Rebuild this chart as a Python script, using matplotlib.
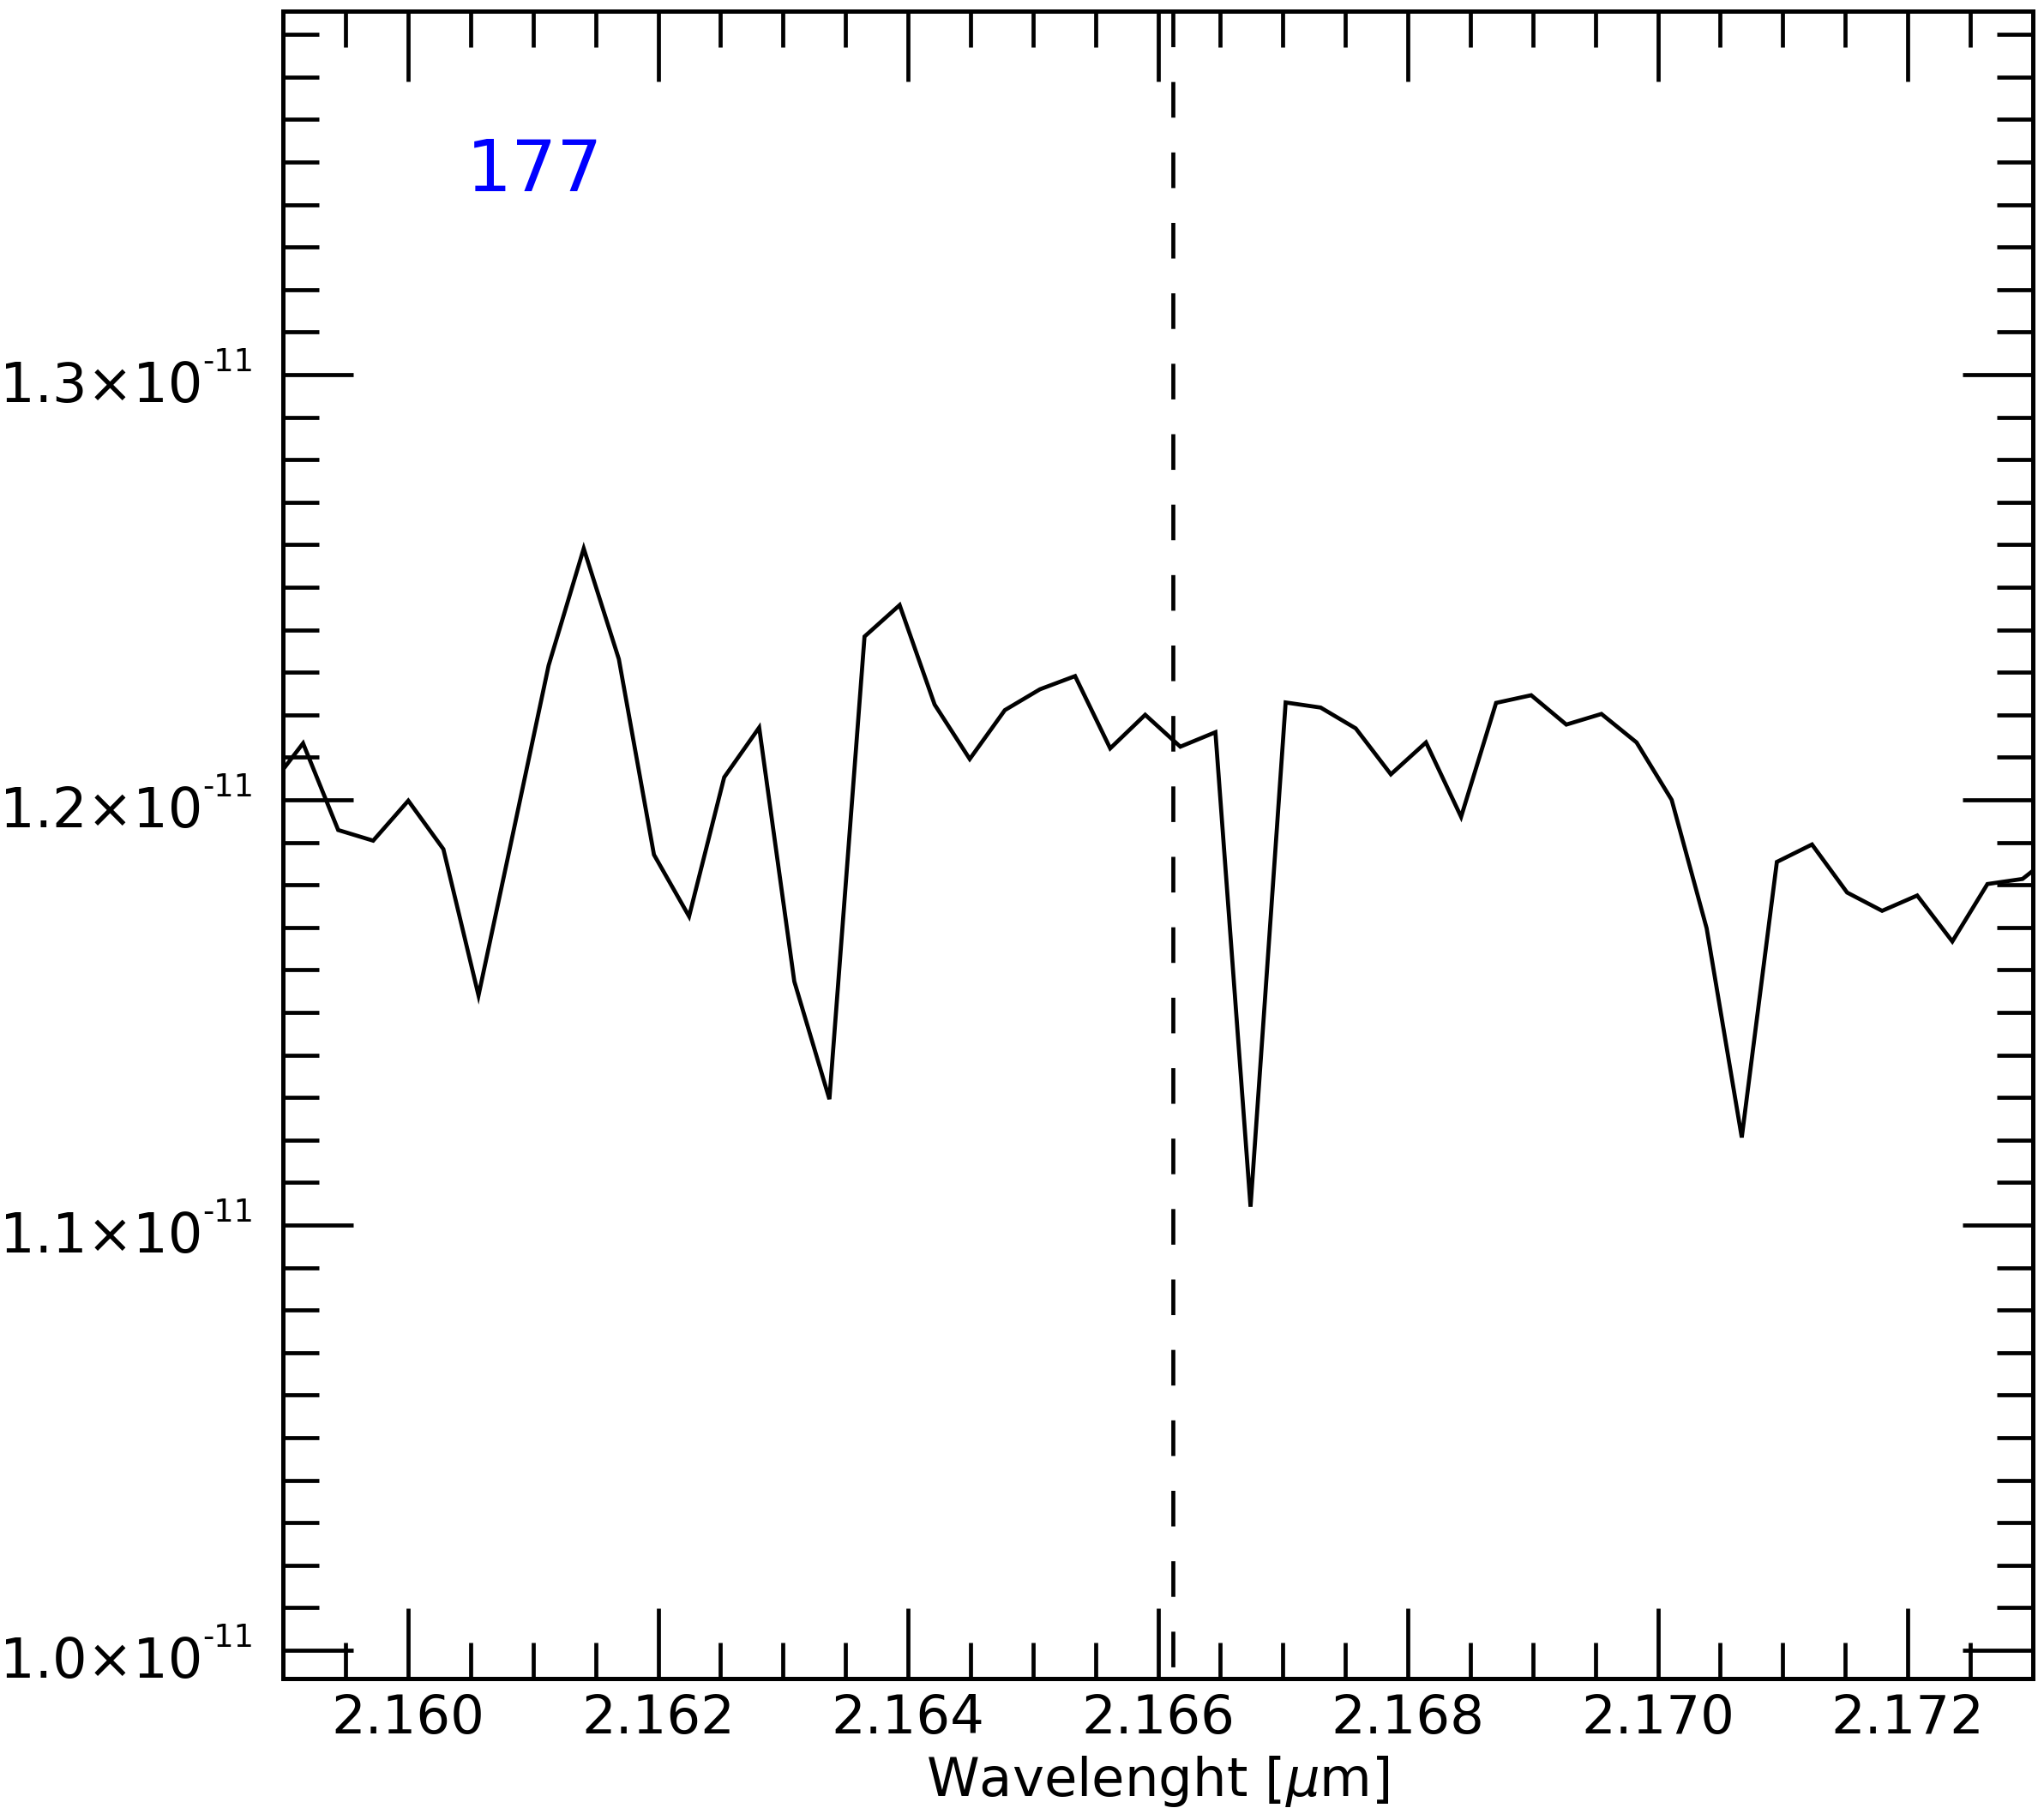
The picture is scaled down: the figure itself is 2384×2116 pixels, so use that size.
import matplotlib
matplotlib.use("Agg")
import matplotlib.pyplot as plt
from matplotlib.ticker import MultipleLocator, FormatStrFormatter, NullFormatter
from matplotlib.transforms import offset_copy
import numpy as np

# Wavelength [micron] of each spectral pixel
wavelength = [2.158878, 2.159159, 2.159440, 2.159720, 2.160001, 2.160282, 2.160563,
              2.160844, 2.161124, 2.161405, 2.161686, 2.161967, 2.162248, 2.162529,
              2.162809, 2.163090, 2.163371, 2.163652, 2.163933, 2.164213, 2.164494,
              2.164775, 2.165056, 2.165337, 2.165618, 2.165898, 2.166179, 2.166460,
              2.166741, 2.167022, 2.167302, 2.167583, 2.167864, 2.168145, 2.168426,
              2.168706, 2.168987, 2.169268, 2.169549, 2.169830, 2.170111, 2.170391,
              2.170672, 2.170953, 2.171234, 2.171515, 2.171795, 2.172076, 2.172357,
              2.172638, 2.172919, 2.173200]

# Flux in units of 1e-11
flux_e11 = [1.2025, 1.2133, 1.1929, 1.1904, 1.1998, 1.1884, 1.1540,
            1.1928, 1.2316, 1.2591, 1.2331, 1.1871, 1.1726, 1.2053,
            1.2170, 1.1573, 1.1296, 1.2384, 1.2458, 1.2224, 1.2096,
            1.2211, 1.2260, 1.2291, 1.2121, 1.2200, 1.2125, 1.2159,
            1.1043, 1.2229, 1.2217, 1.2168, 1.2060, 1.2135, 1.1960,
            1.2228, 1.2246, 1.2177, 1.2202, 1.2135, 1.2000, 1.1698,
            1.1206, 1.1854, 1.1895, 1.1782, 1.1739, 1.1775, 1.1667,
            1.1802, 1.1814, 1.1879]

# y tick labels: mantissa and exponent
ytick_mantissa = [1.0, 1.1, 1.2, 1.3]
ytick_exponent = "-11"

line_wavelength = 2.16612   # Br-gamma marker
label_text = "177"

x_min, x_max = 2.159, 2.173
y_min, y_max = 0.99335e-11, 1.38558e-11

flux = np.array(flux_e11) * 1e-11
yticks = [m * 1e-11 for m in ytick_mantissa]

fig = plt.figure(figsize=(11.92, 10.58), dpi=200)
ax = fig.add_axes([0.13855, 0.07467, 0.99446 - 0.13855, 0.99409 - 0.07467])

ax.plot(wavelength, flux, color="black", lw=1.7, solid_joinstyle="miter")
ax.plot([line_wavelength, line_wavelength], [y_max, y_min], color="black",
        lw=1.7, dashes=[8.8, 8.6])

ax.set_xlim(x_min, x_max)
ax.set_ylim(y_min, y_max)

ax.xaxis.set_major_locator(MultipleLocator(0.002))
ax.xaxis.set_minor_locator(MultipleLocator(0.0005))
ax.xaxis.set_major_formatter(FormatStrFormatter("%.3f"))

ax.set_yticks(yticks)
ax.yaxis.set_minor_locator(MultipleLocator(0.01e-11))
ax.yaxis.set_major_formatter(NullFormatter())

for s in ax.spines.values():
    s.set_linewidth(1.8)

ax.tick_params(which="both", direction="in", top=True, right=True,
               width=1.7, labelsize=22.5)
ax.tick_params(which="major", length=29.4, pad=6)
ax.tick_params(which="minor", length=15.2)

# y tick labels as mantissa×10 with a small raised exponent
ytr = ax.get_yaxis_transform()
main_tr = offset_copy(ytr, fig=fig, x=-33.9, y=-11.5, units="points")
sup_tr = offset_copy(ytr, fig=fig, x=-33.9, y=1.4, units="points")
for m, yv in zip(ytick_mantissa, yticks):
    ax.text(0, yv, "%.1f×10" % m, transform=main_tr, ha="right",
            va="baseline", fontsize=23, clip_on=False)
    ax.text(0, yv, ytick_exponent, transform=sup_tr, ha="left",
            va="baseline", fontsize=13.3, clip_on=False)

ax.set_xlabel("Wavelenght [$\\mu$m]", fontsize=22.5, labelpad=4)

ax.text(0.1047, 0.8918, label_text, transform=ax.transAxes, color="blue",
        fontsize=30, ha="left", va="baseline")

fig.savefig("out.png", dpi=200)
